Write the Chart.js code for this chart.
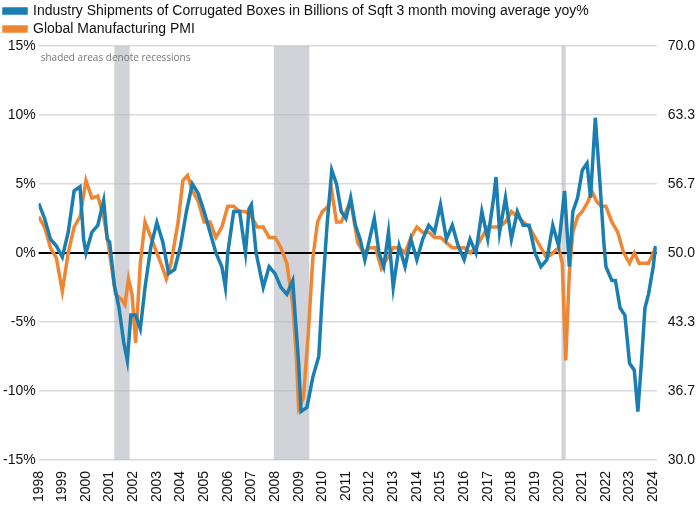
<!DOCTYPE html>
<html>
<head>
<script src="https://cdn.jsdelivr.net/npm/chart.js@4"></script>
<style>
  body { margin: 0; background: #fff; }
</style>
</head>
<body>
<canvas id="myChart" width="700" height="507"></canvas>
<script>
// Corrugated box shipments, 3m avg yoy % (left axis)
const boxDates = [1998.0,1998.25,1998.5,1998.75,1999.0,1999.25,1999.5,1999.75,1999.9,2000.0,2000.25,2000.5,2000.75,2000.9,2001.0,2001.2,2001.4,2001.6,2001.75,2001.9,2002.1,2002.3,2002.5,2002.75,2003.0,2003.25,2003.5,2003.75,2004.0,2004.25,2004.5,2004.75,2005.0,2005.25,2005.5,2005.75,2005.9,2006.0,2006.25,2006.5,2006.75,2006.9,2007.0,2007.2,2007.5,2007.75,2008.0,2008.25,2008.5,2008.75,2008.85,2009.0,2009.1,2009.35,2009.6,2009.85,2010.0,2010.2,2010.4,2010.6,2010.8,2011.0,2011.2,2011.4,2011.6,2011.8,2012.0,2012.2,2012.4,2012.6,2012.8,2013.0,2013.25,2013.5,2013.75,2014.0,2014.25,2014.5,2014.75,2015.0,2015.25,2015.5,2015.75,2016.0,2016.25,2016.5,2016.75,2017.0,2017.25,2017.35,2017.5,2017.75,2018.0,2018.25,2018.5,2018.75,2019.0,2019.25,2019.5,2019.75,2020.0,2020.25,2020.45,2020.6,2020.8,2021.0,2021.2,2021.35,2021.55,2021.75,2021.9,2022.0,2022.25,2022.4,2022.6,2022.8,2023.0,2023.2,2023.35,2023.5,2023.65,2023.8,2024.0,2024.1];
const boxYoy = [3.6,2.5,1.0,0.5,-0.3,1.5,4.5,4.8,1.0,0.0,1.5,2.0,3.8,1.0,0.8,-2.3,-4,-6.5,-7.8,-4.5,-4.5,-5.5,-2.5,0.5,2.2,0.8,-1.5,-1.2,0.5,3,5,4.3,3,1.5,0,-1,-2.5,0,3,3,0,3.2,3.5,0,-2.5,-1,-1.5,-2.5,-3,-2,-4.5,-8,-11.5,-11.2,-9,-7.5,-3,2,6,5,3,2.5,4,2,1,-0.5,1,2.5,0,-1,1.5,-2.5,0.5,-1,1,-0.5,1,2,1.5,3.5,1,2,0.5,-0.5,1,0,3,1,4,5.5,1.5,4,1,3,2,2,0,-1,-0.5,2,0.5,4.5,-1,3,4,6,6.5,4,9.8,5,1,-1,-2,-2,-4,-4.5,-8,-8.5,-11.5,-8,-4,-3,-1,0.5];

// Global manufacturing PMI (right axis)
const pmiDates = [1998.0,1998.25,1998.5,1998.75,1999.0,1999.25,1999.5,1999.75,2000.0,2000.25,2000.5,2000.75,2000.9,2001.0,2001.25,2001.5,2001.65,2001.8,2001.95,2002.1,2002.3,2002.5,2002.75,2003.0,2003.25,2003.4,2003.6,2003.9,2004.1,2004.3,2004.5,2004.75,2005.0,2005.25,2005.5,2005.75,2006.0,2006.25,2006.5,2006.75,2007.0,2007.25,2007.5,2007.75,2008.0,2008.25,2008.5,2008.75,2008.9,2009.0,2009.2,2009.4,2009.6,2009.8,2010.0,2010.25,2010.4,2010.6,2010.8,2011.0,2011.2,2011.5,2011.75,2012.0,2012.25,2012.5,2012.75,2013.0,2013.25,2013.5,2013.75,2014.0,2014.25,2014.5,2014.75,2015.0,2015.25,2015.5,2015.75,2016.0,2016.25,2016.5,2016.75,2017.0,2017.25,2017.5,2017.75,2018.0,2018.25,2018.5,2018.75,2019.0,2019.25,2019.5,2019.75,2020.0,2020.15,2020.3,2020.45,2020.6,2020.8,2021.0,2021.25,2021.4,2021.6,2021.8,2022.0,2022.25,2022.5,2022.75,2023.0,2023.2,2023.4,2023.6,2023.8,2024.0,2024.1];
const pmiValues = [53.5,52.5,50.5,49.5,46.3,50,52.5,53.5,57,55.3,55.5,53.5,51.5,50,46,45.5,45,47.5,46,41.3,49,53,51.5,50,48.5,47.5,49,53,57,57.5,56,55,53,53,51.5,52.5,54.5,54.5,54,54,53.5,52.5,52.5,51.5,51.5,50.5,49,45,40,35,36,42,49.5,53,54,54.5,56,53,53,54,55,51,50,50.5,50.5,48.5,49.5,50.5,50.5,50,51.5,52.5,52,52,51.5,51.5,51,50.5,50.5,50.5,50,50.5,51.5,52.5,52.5,52.5,53,54,53.5,53,52.5,51.5,50.5,49.5,50,50.5,49,39.6,48,52,53.5,54,55,56,55,54.5,54.5,53,52,50,49,50,49,49,49,50,50.5];

const recessions = [[2001.2, 2001.85], [2007.95, 2009.45], [2020.12, 2020.3]];
const leftTicks = [-15, -10, -5, 0, 5, 10, 15];

const toPoints = (xs, ys) => xs.map((x, i) => ({ x: x, y: ys[i] }));

// shaded recession bands + zero line + note text
const recessionPlugin = {
    id: 'recessions',
    beforeDatasetsDraw(chart) {
        const { ctx, chartArea, scales } = chart;
        ctx.save();
        ctx.fillStyle = 'rgba(180,182,190,0.6)';
        recessions.forEach(r => {
            const x1 = scales.x.getPixelForValue(r[0]);
            const x2 = scales.x.getPixelForValue(r[1]);
            ctx.fillRect(x1, chartArea.top, x2 - x1, chartArea.bottom - chartArea.top);
        });
        const y0 = scales.y.getPixelForValue(0);
        ctx.strokeStyle = '#000';
        ctx.lineWidth = 2;
        ctx.beginPath();
        ctx.moveTo(chartArea.left, y0);
        ctx.lineTo(chartArea.right, y0);
        ctx.stroke();
        ctx.fillStyle = '#777';
        ctx.font = '10px "Open Sans"';
        ctx.fillText('shaded areas denote recessions', chartArea.left + 2, chartArea.top + 12);
        ctx.restore();
    }
};

new Chart(document.getElementById('myChart'), {
    type: 'line',
    data: {
        datasets: [{
            label: 'Industry Shipments of Corrugated Boxes in Billions of Sqft 3 month moving average yoy%',
            data: toPoints(boxDates, boxYoy),
            borderColor: '#1a7fb0',
            backgroundColor: '#1a7fb0',
            borderWidth: 3.5,
            pointRadius: 0,
            yAxisID: 'y'
        }, {
            label: 'Global Manufacturing PMI',
            data: toPoints(pmiDates, pmiValues),
            borderColor: '#ee8633',
            backgroundColor: '#ee8633',
            borderWidth: 3.5,
            pointRadius: 0,
            yAxisID: 'y1'
        }]
    },
    options: {
        responsive: false,
        animation: false,
        layout: { padding: { left: 0, right: 2, top: 0, bottom: 2 } },
        plugins: {
            legend: {
                position: 'top',
                align: 'start',
                labels: {
                    boxWidth: 22, boxHeight: 4, padding: 4,
                    color: '#111',
                    font: { size: 14, family: 'Liberation Sans' }
                }
            },
            tooltip: { enabled: false }
        },
        scales: {
            x: {
                type: 'linear', min: 1998, max: 2024.15,
                afterBuildTicks: axis => {
                    const t = [];
                    for (let yr = 1998; yr <= 2024; yr++) t.push({ value: yr });
                    axis.ticks = t;
                },
                ticks: {
                    maxRotation: 90, minRotation: 90, autoSkip: false,
                    color: '#111', font: { size: 14, family: 'Liberation Sans' },
                    callback: v => String(v)
                },
                grid: { display: false },
                border: { display: false }
            },
            y: {
                position: 'left', min: -15, max: 15,
                afterBuildTicks: axis => { axis.ticks = leftTicks.map(v => ({ value: v })); },
                ticks: { color: '#111', font: { size: 14, family: 'Liberation Sans' }, callback: v => v + '%' },
                grid: { color: '#d9d9de', lineWidth: 1.5, drawTicks: false },
                border: { display: false }
            },
            y1: {
                position: 'right', min: 30, max: 70,
                afterBuildTicks: axis => {
                    const t = [];
                    for (let i = 0; i <= 6; i++) t.push({ value: 30 + i * 20 / 3 });
                    axis.ticks = t;
                },
                ticks: { color: '#111', font: { size: 14, family: 'Liberation Sans' }, callback: v => v.toFixed(1) },
                grid: { display: false },
                border: { display: false }
            }
        }
    },
    plugins: [recessionPlugin]
});
</script>
</body>
</html>
